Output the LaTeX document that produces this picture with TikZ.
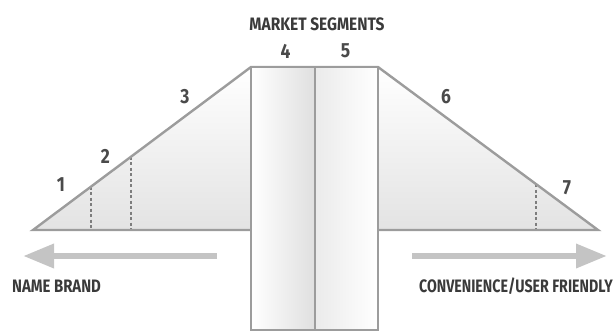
\documentclass[tikz,border=0pt]{standalone}
\usepackage{fontspec}
\setmainfont{Fira Sans}
\usetikzlibrary{arrows.meta}
\definecolor{edge}{HTML}{9C9C9C}
\definecolor{arrowgray}{HTML}{C4C4C4}
\definecolor{txt}{HTML}{3A3A3A}
\definecolor{num}{HTML}{4A4A4A}
\begin{document}
\begin{tikzpicture}[x=1pt,y=-1pt,
  outline/.style={draw=edge,line width=2.4pt},
  guide/.style={draw=edge!80!black,line width=1.1pt,dash pattern=on 3pt off 2.5pt},
  bigarrow/.style={draw=arrowgray,line width=6.5pt,-{Triangle[length=31pt,width=23pt]}},
  numlabel/.style={text=num,font=\fontsize{20.5}{20.5}\selectfont\bfseries,inner sep=0pt},
  caplabel/.style={text=txt,font=\fontsize{18}{18}\selectfont\bfseries,inner sep=0pt}]
\useasboundingbox (0,0) rectangle (615,332);
\coordinate (L) at (33,230);
\coordinate (TL) at (251,67);
\coordinate (TR) at (378,67);
\coordinate (R) at (598,230);
\coordinate (BL) at (251,230);
\coordinate (BR) at (378,230);
\coordinate (M) at (315,67);
% trapezoid fill
\shade[top color=white,bottom color=gray!22] (L) -- (TL) -- (TR) -- (R) -- cycle;
% dashed guides
\coordinate (d1t) at (91,186.6); \coordinate (d1b) at (91,230);
\coordinate (d2t) at (131,156.7); \coordinate (d2b) at (131,230);
\coordinate (d3t) at (536,184.1); \coordinate (d3b) at (536,230);
\draw[guide] (d1t) -- (d1b);
\draw[guide] (d2t) -- (d2b);
\draw[guide] (d3t) -- (d3b);
% trapezoid outline
\draw[outline] (BL) -- (L) -- (TL) -- (TR) -- (R) -- (BR);
% columns
\coordinate (CBL) at (251,330);
\coordinate (CBM) at (315,330);
\coordinate (CBR) at (378,330);
\shade[left color=white,right color=gray!25] (TL) rectangle (CBM);
\shade[left color=gray!16,right color=white] (M) rectangle (CBR);
\draw[outline] (TL) rectangle (CBM);
\draw[outline] (M) rectangle (CBR);
% arrows
\coordinate (a1s) at (217,256); \coordinate (a1e) at (23,256);
\coordinate (a2s) at (412,256); \coordinate (a2e) at (607,256);
\draw[bigarrow] (a1s) -- (a1e);
\draw[bigarrow] (a2s) -- (a2e);
% labels
\node[caplabel] (title) at (317,24) {\scalebox{0.86}[1]{MARKET SEGMENTS}};
\node[numlabel] (n4) at (285.5,51) {\scalebox{0.85}[1]{4}};
\node[numlabel] (n5) at (345.5,51) {\scalebox{0.85}[1]{5}};
\node[numlabel] (n3) at (185,97) {\scalebox{0.85}[1]{3}};
\node[numlabel] (n6) at (446,97) {\scalebox{0.85}[1]{6}};
\node[numlabel] (n2) at (105.5,156) {\scalebox{0.85}[1]{2}};
\node[numlabel] (n1) at (61,185) {\scalebox{0.85}[1]{1}};
\node[numlabel] (n7) at (567,188) {\scalebox{0.85}[1]{7}};
\node[caplabel,anchor=west] (nb) at (12,286.5) {\scalebox{0.83}[1]{NAME BRAND}};
\node[caplabel,anchor=east] (cu) at (613,286.5) {\scalebox{0.79}[1]{CONVENIENCE/USER FRIENDLY}};
\end{tikzpicture}
\end{document}
